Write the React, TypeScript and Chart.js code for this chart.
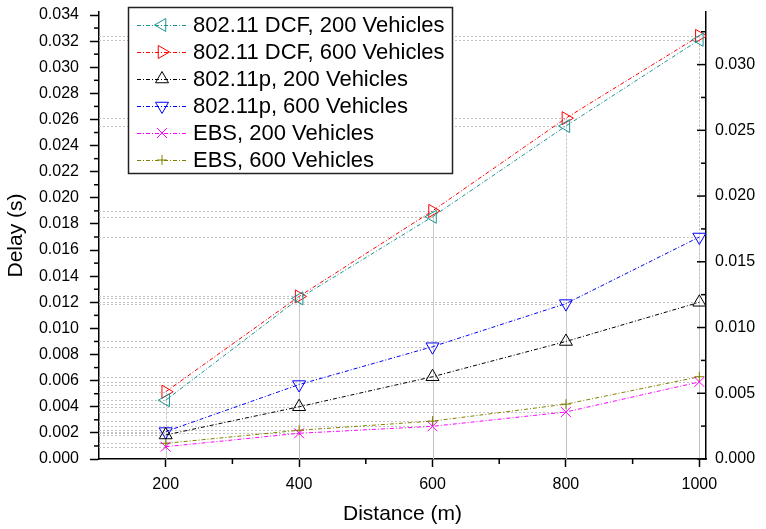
import React, { useEffect, useRef } from 'react';
import { Chart, registerables } from 'chart.js';

Chart.register(...registerables);

// ---------- data ----------
const distances = [200, 400, 600, 800, 1000];
const dcf200 = [0.0045, 0.0123, 0.01855, 0.0255, 0.0321];
const dcf600 = [0.00515, 0.01245, 0.019, 0.0261, 0.0324];
const p200 = [0.00184, 0.004, 0.0063, 0.009, 0.012];
const p600 = [0.0021, 0.0057, 0.0086, 0.0119, 0.017];
const ebs200 = [0.00094, 0.00197, 0.0025, 0.0036, 0.0059];
const ebs600 = [0.0012, 0.0022, 0.0029, 0.0042, 0.0063];

const seriesLabels = [
  '802.11 DCF, 200 Vehicles',
  '802.11 DCF, 600 Vehicles',
  '802.11p, 200 Vehicles',
  '802.11p, 600 Vehicles',
  'EBS, 200 Vehicles',
  'EBS, 600 Vehicles',
];
const seriesData = [dcf200, dcf600, p200, p600, ebs200, ebs600];
const seriesColors = ['#1a9494', '#ff0000', '#000000', '#0000ff', '#ff00ff', '#808000'];
const seriesStyles = ['triangle', 'triangle', 'triangle', 'triangle', 'crossRot', 'cross'];
const seriesRotations = [270, 90, 0, 180, 0, 0];
const seriesRadii = [7.5, 7.5, 7.5, 7.5, 7, 5];

const xMajorTicks = [200, 400, 600, 800, 1000];
const xMinorTicks = [300, 500, 700, 900];
const yLeftMajor = [0, 0.002, 0.004, 0.006, 0.008, 0.01, 0.012, 0.014, 0.016, 0.018, 0.02, 0.022, 0.024, 0.026, 0.028, 0.03, 0.032, 0.034];
const yLeftMinor = [0.001, 0.003, 0.005, 0.007, 0.009, 0.011, 0.013, 0.015, 0.017, 0.019, 0.021, 0.023, 0.025, 0.027, 0.029, 0.031, 0.033];
const yRightMajor = [0, 0.005, 0.01, 0.015, 0.02, 0.025, 0.03];
const yRightMinor = [0.0025, 0.0075, 0.0125, 0.0175, 0.0225, 0.0275, 0.0325];

const FONT = "'Liberation Sans', Arial, Helvetica, sans-serif";
const DASH = [4, 2, 1, 2];

function drawMarker(ctx: CanvasRenderingContext2D, style: string, rot: number, r: number, x: number, y: number, color: string) {
  ctx.save();
  ctx.strokeStyle = color;
  ctx.lineWidth = 1;
  ctx.setLineDash([]);
  ctx.beginPath();
  if (style === 'triangle') {
    let rad = (rot * Math.PI) / 180;
    ctx.moveTo(x + Math.sin(rad) * r, y - Math.cos(rad) * r);
    rad += (2 * Math.PI) / 3;
    ctx.lineTo(x + Math.sin(rad) * r, y - Math.cos(rad) * r);
    rad += (2 * Math.PI) / 3;
    ctx.lineTo(x + Math.sin(rad) * r, y - Math.cos(rad) * r);
    ctx.closePath();
  } else if (style === 'cross') {
    ctx.moveTo(x, y - r);
    ctx.lineTo(x, y + r);
    ctx.moveTo(x - r, y);
    ctx.lineTo(x + r, y);
  } else {
    const d = r * Math.SQRT1_2;
    ctx.moveTo(x - d, y - d);
    ctx.lineTo(x + d, y + d);
    ctx.moveTo(x + d, y - d);
    ctx.lineTo(x - d, y + d);
  }
  ctx.stroke();
  ctx.restore();
}

const dropLinesPlugin = {
  id: 'dropLines',
  beforeDatasetsDraw(chart: any) {
    const { ctx, chartArea } = chart;
    ctx.save();
    ctx.strokeStyle = '#c2c2c2';
    ctx.lineWidth = 1;
    ctx.setLineDash([2, 2]);
    chart.data.datasets.forEach((_: any, di: number) => {
      const meta = chart.getDatasetMeta(di);
      meta.data.forEach((pt: any) => {
        const px = Math.round(pt.x) + 0.5;
        const py = Math.round(pt.y) + 0.5;
        ctx.beginPath();
        ctx.moveTo(chartArea.left, py);
        ctx.lineTo(px, py);
        ctx.moveTo(px, py);
        ctx.lineTo(px, chartArea.bottom);
        ctx.stroke();
      });
    });
    ctx.restore();
  },
};

const axesDecorPlugin = {
  id: 'axesDecor',
  afterDraw(chart: any) {
    const { ctx, chartArea, scales } = chart;
    ctx.save();
    ctx.strokeStyle = '#000';
    ctx.lineWidth = 1.5;
    ctx.setLineDash([]);
    yLeftMinor.forEach((v) => {
      const y = scales.y.getPixelForValue(v);
      ctx.beginPath();
      ctx.moveTo(chartArea.left - 5, y);
      ctx.lineTo(chartArea.left, y);
      ctx.stroke();
    });
    xMinorTicks.forEach((v) => {
      const x = scales.x.getPixelForValue(v);
      ctx.beginPath();
      ctx.moveTo(x, chartArea.bottom);
      ctx.lineTo(x, chartArea.bottom + 5);
      ctx.stroke();
    });
    yRightMajor.forEach((v) => {
      const y = scales.y2.getPixelForValue(v);
      ctx.beginPath();
      ctx.moveTo(chartArea.right - 9, y);
      ctx.lineTo(chartArea.right, y);
      ctx.stroke();
    });
    yRightMinor.forEach((v) => {
      const y = scales.y2.getPixelForValue(v);
      ctx.beginPath();
      ctx.moveTo(chartArea.right - 5, y);
      ctx.lineTo(chartArea.right, y);
      ctx.stroke();
    });
    ctx.restore();

    // legend box
    const bx = 128, by = 7, bw = 324, bh = 166;
    ctx.save();
    ctx.fillStyle = '#fff';
    ctx.fillRect(bx, by, bw, bh);
    ctx.strokeStyle = '#222';
    ctx.lineWidth = 1.5;
    ctx.strokeRect(bx + 0.5, by + 0.5, bw, bh);
    ctx.font = `22px ${FONT}`;
    ctx.textBaseline = 'middle';
    ctx.textAlign = 'left';
    chart.data.datasets.forEach((ds: any, i: number) => {
      const cy = 25 + i * 27;
      ctx.save();
      ctx.strokeStyle = ds.borderColor;
      ctx.lineWidth = 1;
      ctx.setLineDash(DASH);
      ctx.beginPath();
      ctx.moveTo(137, cy + 0.5);
      ctx.lineTo(186, cy + 0.5);
      ctx.stroke();
      ctx.restore();
      drawMarker(ctx, ds.pointStyle, ds.pointRotation, ds.pointRadius, 162, cy, ds.borderColor);
      ctx.fillStyle = '#000';
      ctx.fillText(ds.label, 193, cy + 1);
    });
    ctx.restore();
  },
};

function zeroPad(scale: any) {
  scale.paddingTop = 0;
  scale.paddingBottom = 0;
  scale.paddingLeft = 0;
  scale.paddingRight = 0;
}

export default function App() {
  const canvasRef = useRef<HTMLCanvasElement | null>(null);

  useEffect(() => {
    const canvas = canvasRef.current;
    if (!canvas) return;
    const datasets = seriesData.map((d, i) => ({
      label: seriesLabels[i],
      data: d.map((v, j) => ({ x: distances[j], y: v })),
      borderColor: seriesColors[i],
      backgroundColor: seriesColors[i],
      borderWidth: 1,
      borderDash: DASH,
      pointStyle: seriesStyles[i],
      pointRotation: seriesRotations[i],
      pointRadius: seriesRadii[i],
      pointBorderWidth: 1,
      pointBorderColor: seriesColors[i],
      pointBackgroundColor: 'rgba(0,0,0,0)',
      tension: 0,
      yAxisID: 'y',
    }));

    const chart = new Chart(canvas, {
      type: 'line',
      data: { datasets },
      plugins: [dropLinesPlugin, axesDecorPlugin],
      options: {
        animation: false,
        responsive: false,
        devicePixelRatio: 1,
        layout: { padding: { top: 12, left: 4, right: 0, bottom: 2 } },
        plugins: {
          legend: { display: false },
          tooltip: { enabled: false },
        },
        scales: {
          x: {
            type: 'linear',
            min: 100,
            max: 1010,
            afterBuildTicks: (scale: any) => {
              scale.ticks = xMajorTicks.map((v) => ({ value: v }));
            },
            afterFit: (scale: any) => {
              scale.height = 68;
              zeroPad(scale);
            },
            grid: {
              display: true,
              drawOnChartArea: false,
              drawTicks: true,
              tickLength: 8,
              tickColor: '#000',
              tickWidth: 1.5,
              color: '#000',
            },
            border: { display: true, color: '#000', width: 1.5 },
            ticks: {
              color: '#000',
              padding: 8,
              maxRotation: 0,
              font: { family: FONT, size: 16 },
              callback: (v: any) => String(v),
            },
            title: {
              display: true,
              text: 'Distance (m)',
              color: '#000',
              padding: 0,
              font: { family: FONT, size: 21 },
            },
          },
          y: {
            type: 'linear',
            position: 'left',
            min: 0,
            max: 0.03423,
            afterBuildTicks: (scale: any) => {
              scale.ticks = yLeftMajor.map((v) => ({ value: v }));
            },
            afterFit: (scale: any) => {
              scale.width = 95;
              zeroPad(scale);
            },
            grid: {
              display: true,
              drawOnChartArea: false,
              drawTicks: true,
              tickLength: 9,
              tickColor: '#000',
              tickWidth: 1.5,
              color: '#000',
            },
            border: { display: true, color: '#000', width: 1.5 },
            ticks: {
              color: '#000',
              padding: 11,
              font: { family: FONT, size: 16 },
              callback: (v: any) => Number(v).toFixed(3),
            },
            title: {
              display: true,
              text: 'Delay (s)',
              color: '#000',
              padding: 0,
              font: { family: FONT, size: 21 },
            },
          },
          y2: {
            type: 'linear',
            position: 'right',
            min: 0,
            max: 0.034,
            afterBuildTicks: (scale: any) => {
              scale.ticks = yRightMajor.map((v) => ({ value: v }));
            },
            afterFit: (scale: any) => {
              scale.width = 60;
              zeroPad(scale);
            },
            grid: {
              display: true,
              drawOnChartArea: false,
              drawTicks: false,
              color: '#000',
            },
            border: { display: true, color: '#000', width: 1.5 },
            ticks: {
              color: '#000',
              padding: 9,
              font: { family: FONT, size: 16 },
              callback: (v: any) => Number(v).toFixed(3),
            },
          },
        },
      } as any,
    });
    return () => chart.destroy();
  }, []);

  return (
    <div style={{ position: 'absolute', left: 0, top: 0, width: 766, height: 529, background: '#fff' }}>
      <canvas ref={canvasRef} width={766} height={529} style={{ display: 'block', width: 766, height: 529 }} />
    </div>
  );
}
